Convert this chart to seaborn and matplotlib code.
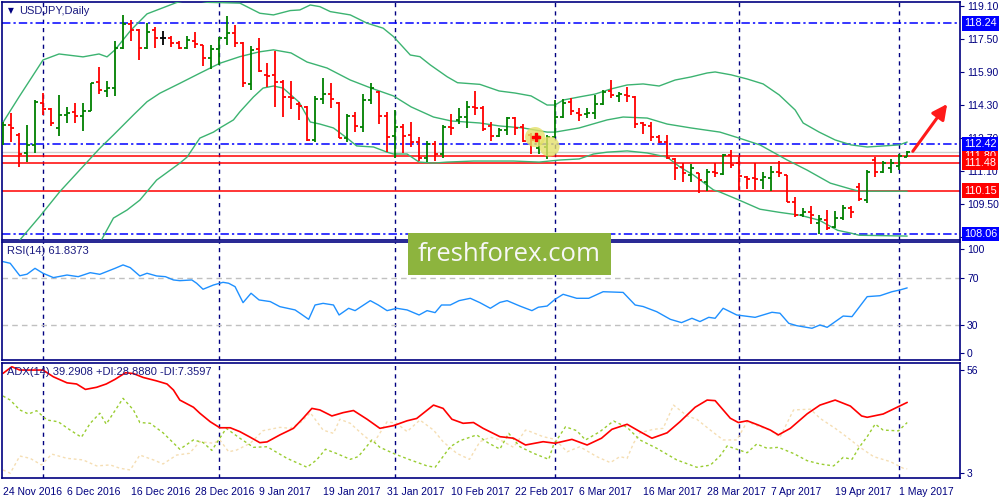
import matplotlib
matplotlib.use("Agg")
import matplotlib.pyplot as plt
from matplotlib.patches import Rectangle
import seaborn as sns
import pandas as pd

# USDJPY daily bars, 24 Nov 2016 .. 2 May 2017
opens = [112.44, 113.33, 112.84, 111.95, 112.36, 114.41, 114.10, 113.17, 113.81, 113.97,
         113.76, 114.00, 115.41, 114.99, 115.10, 117.07, 118.20, 117.92, 117.07, 117.92,
         117.52, 117.52, 117.31, 117.07, 117.41, 117.20, 116.55, 116.99, 117.52, 117.76,
         117.28, 115.29, 116.99, 115.73, 115.73, 115.42, 114.70, 114.33, 114.18, 112.58,
         114.60, 114.81, 114.41, 112.71, 113.76, 113.24, 114.54, 114.94, 113.76, 112.79,
         113.24, 112.84, 112.49, 111.71, 112.41, 111.91, 113.21, 113.57, 113.73, 114.21,
         114.13, 113.28, 112.79, 113.08, 113.65, 113.21, 112.84, 112.20, 112.28, 112.76,
         113.70, 114.46, 113.92, 113.84, 113.92, 114.33, 114.99, 114.73, 114.78, 114.70,
         113.41, 113.28, 112.73, 112.52, 111.66, 111.31, 110.91, 110.99, 110.58, 111.07,
         110.95, 111.87, 111.47, 110.83, 110.74, 110.66, 110.78, 111.07, 110.91, 109.61,
         108.97, 109.10, 108.57, 108.73, 108.41, 108.81, 109.33, 110.34, 109.70, 111.63,
         111.03, 111.23, 111.34, 111.79]
highs = [113.49, 113.89, 112.92, 113.33, 114.54, 114.86, 114.13, 114.78, 114.18, 114.41,
         114.37, 115.37, 116.15, 115.47, 117.41, 118.65, 118.41, 117.96, 118.25, 118.05,
         117.88, 117.63, 117.39, 117.63, 117.81, 117.20, 117.20, 117.57, 118.62, 118.17,
         117.36, 117.15, 117.55, 116.34, 116.88, 115.50, 115.47, 114.46, 114.25, 114.73,
         115.60, 115.34, 114.42, 113.86, 113.97, 114.83, 115.36, 114.97, 113.95, 114.05,
         113.36, 113.49, 112.76, 112.57, 112.55, 113.33, 113.86, 114.16, 114.50, 114.97,
         114.25, 113.46, 113.20, 113.73, 113.70, 113.37, 112.95, 112.84, 112.84, 114.54,
         114.57, 114.62, 114.16, 114.13, 114.78, 115.02, 115.50, 114.91, 115.15, 114.73,
         113.49, 113.46, 112.84, 112.83, 111.71, 111.47, 111.42, 111.02, 111.18, 111.47,
         111.92, 112.12, 111.76, 110.86, 111.47, 111.07, 111.34, 111.58, 110.91, 109.83,
         109.29, 109.40, 108.97, 109.21, 109.16, 109.45, 109.40, 110.50, 111.15, 111.79,
         111.60, 111.68, 111.92, 112.08]
lows = [112.36, 112.52, 111.31, 111.55, 111.95, 113.81, 113.28, 112.79, 113.41, 113.41,
        113.04, 114.00, 114.81, 114.70, 114.73, 116.99, 117.41, 116.47, 116.99, 117.07,
        117.20, 117.09, 116.99, 117.00, 117.07, 116.20, 116.02, 116.23, 117.17, 117.12,
        115.18, 115.02, 115.91, 115.15, 114.21, 113.73, 114.10, 113.57, 112.57, 112.52,
        114.34, 114.16, 112.68, 112.52, 113.00, 113.00, 114.34, 113.37, 112.04, 111.71,
        111.95, 112.28, 111.60, 111.52, 111.60, 111.71, 112.84, 113.37, 113.20, 113.81,
        113.05, 112.57, 112.76, 112.84, 112.84, 112.52, 111.91, 111.92, 111.66, 112.73,
        113.65, 113.81, 113.54, 113.65, 113.60, 114.29, 114.62, 114.46, 114.46, 113.17,
        112.87, 112.55, 112.47, 111.66, 110.66, 110.58, 110.58, 110.05, 110.13, 110.83,
        110.91, 111.23, 110.18, 110.21, 110.18, 110.21, 110.13, 110.79, 109.58, 108.89,
        108.89, 108.53, 108.03, 108.24, 108.33, 108.73, 108.84, 109.65, 109.57, 110.83,
        110.99, 111.02, 111.15, 111.79]
closes = [113.33, 113.17, 111.91, 112.36, 114.46, 114.10, 113.44, 113.81, 113.89, 113.76,
          114.00, 115.37, 115.02, 115.10, 117.07, 118.20, 117.92, 117.07, 117.84, 117.52,
          117.52, 117.31, 117.07, 117.44, 117.23, 116.55, 116.99, 117.52, 117.76, 117.28,
          115.34, 116.96, 115.96, 115.70, 115.39, 114.70, 114.65, 114.25, 112.58, 114.60,
          114.81, 114.57, 112.71, 113.76, 113.28, 114.54, 115.13, 113.76, 112.76, 113.21,
          112.79, 112.52, 111.71, 112.41, 111.91, 113.24, 113.18, 113.70, 114.21, 114.13,
          113.12, 112.79, 113.08, 113.65, 113.17, 112.55, 112.60, 112.41, 112.73, 113.70,
          114.37, 114.02, 113.81, 113.89, 114.33, 114.94, 114.78, 114.81, 114.73, 113.37,
          113.33, 112.73, 112.52, 111.71, 111.23, 110.99, 111.23, 110.66, 111.07, 110.99,
          111.87, 111.39, 110.86, 110.70, 110.70, 110.83, 111.07, 110.99, 109.58, 108.97,
          109.10, 108.97, 108.76, 108.33, 108.81, 109.29, 109.10, 109.73, 111.07, 111.07,
          111.47, 111.47, 111.83, 112.04]

# Bollinger bands (bar position, price)
bb_up_x = [0, 2, 5, 7, 10, 12, 13, 14, 15, 16, 18, 21.7, 23.5, 25.5, 29.6, 32.1, 33.8, 35.9,
           37.1, 38.4, 39.6, 40.9, 43.4, 45.5, 47.5, 48.8, 50.9, 52.1, 53.4, 55.5, 56.8, 59.6,
           62, 64, 66, 68, 69, 70, 72, 74, 76, 78, 80, 82, 84, 86, 88, 89, 91, 93, 95, 97, 99,
           100, 102, 104, 106, 108, 110, 112, 113]
bb_up = [113.45, 114.68, 116.47, 116.76, 116.62, 116.76, 116.62, 116.96, 117.44, 117.92,
         118.70, 119.25, 119.40, 119.26, 119.22, 118.73, 118.65, 118.86, 118.89, 119.13,
         119.05, 118.81, 118.65, 118.25, 118.01, 117.60, 116.71, 116.63, 116.23, 115.66,
         115.37, 115.29, 114.97, 114.87, 114.73, 114.29, 114.29, 114.53, 114.68, 114.82,
         115.07, 115.26, 115.31, 115.21, 115.50, 115.65, 115.84, 115.89, 115.75, 115.55,
         115.31, 114.78, 114.05, 113.42, 112.98, 112.60, 112.36, 112.26, 112.31, 112.36,
         112.50]
bb_mid_x = [2.1, 4.6, 7.1, 9.6, 12.1, 13.8, 16.3, 18, 19.6, 22.1, 24.6, 27.1, 29.6, 32, 33.8,
            36, 38, 40.5, 43.4, 46, 48.8, 51, 53.8, 56, 59.6, 62, 65, 68, 69, 72, 75.5, 77.5,
            80.5, 83, 86, 89.6, 92, 94.6, 98, 100.5, 103.4, 106, 107, 113]
bb_mid = [107.76, 108.90, 110.10, 111.15, 112.20, 112.84, 113.81, 114.45, 114.86, 115.34,
          115.83, 116.31, 116.63, 116.86, 116.96, 116.81, 116.37, 116.08, 115.50, 115.11,
          114.73, 114.20, 113.71, 113.52, 113.42, 113.28, 113.18, 112.98, 112.98, 113.18,
          113.57, 113.71, 113.66, 113.37, 113.18, 112.98, 112.69, 112.36, 111.63, 111.14,
          110.51, 110.22, 110.12, 110.12]
bb_low_x = [12.3, 13.8, 15.5, 17.1, 19.2, 22.1, 23, 24.6, 26.3, 27.1, 28.8, 29.6, 31.3, 32.5,
            33.8, 35, 37, 38.4, 39.6, 41.3, 43, 44.2, 46.3, 48, 48.8, 50.5, 52, 53.8, 55.5,
            58.8, 63.8, 67, 69.6, 72, 73.8, 75.5, 78, 80.5, 83, 84.6, 86.3, 88.8, 89.6, 92,
            94.6, 97, 99.6, 102, 104.3, 106, 107, 113]
bb_low = [107.76, 108.82, 109.21, 109.69, 110.66, 111.48, 111.77, 112.69, 112.98, 113.18,
          113.57, 113.96, 114.68, 115.11, 115.21, 115.11, 114.43, 113.47, 113.37, 113.18,
          112.69, 112.31, 112.26, 112.01, 111.92, 111.92, 111.53, 111.48, 111.53, 111.58,
          111.58, 111.53, 111.63, 111.68, 111.92, 112.01, 112.07, 111.97, 111.77, 111.29,
          110.90, 110.18, 110.08, 109.69, 109.25, 109.10, 108.96, 108.72, 108.23, 108.09,
          107.99, 107.95]

# RSI(14)
rsi_x = [0, 0.9, 2.1, 3, 4, 5, 6.3, 8, 9.4, 10.9, 12.1, 14, 15, 15.9, 17.1, 18, 19.2, 20.3,
         21.3, 22.1, 23.6, 24.2, 25, 26.3, 27.5, 28.2, 29, 30, 31, 32, 33.4, 34.6, 36.5, 37.3,
         38.2, 39, 40, 41.3, 42, 43.2, 44, 45.9, 46.9, 48, 49.2, 50.5, 52, 53, 54, 54.8, 55.9,
         57, 58.4, 59.6, 60.9, 62.1, 63, 64.6, 66.1, 66.9, 68, 69, 70, 71.7, 73.2, 75, 76.3,
         77.5, 79, 80, 81.7, 83.4, 84.8, 86.1, 87.1, 88.2, 89, 90, 91.7, 94, 96.1, 97.1, 98.2,
         99.2, 101.1, 102.1, 103, 105, 106.1, 108, 109.6, 111.1, 112.1, 113]
rsi = [84.2, 82.8, 72.2, 73.5, 78.5, 74.3, 70.6, 72.8, 71.4, 74.8, 73.4, 78.5, 81.4, 79.1,
       72.0, 74.3, 72.0, 71.4, 68.6, 68.0, 68.6, 65.8, 60.7, 64.3, 66.6, 65.8, 62.9, 49.3,
       57.3, 51.6, 50.2, 45.9, 43.1, 39.4, 35.1, 47.3, 48.7, 47.3, 38.8, 44.5, 42.5, 51.0,
       47.3, 42.5, 44.5, 43.1, 38.8, 42.5, 40.8, 47.3, 47.3, 51.0, 53.0, 49.3, 44.5, 49.5,
       51.0, 46.4, 42.5, 45.4, 46.4, 52.2, 56.4, 53.0, 53.0, 58.6, 58.3, 58.0, 47.3, 46.0,
       41.6, 35.1, 32.3, 36.0, 33.2, 36.8, 36.0, 44.5, 38.8, 36.8, 41.1, 40.3, 31.7, 29.7,
       27.5, 30.3, 28.3, 37.9, 37.4, 54.4, 55.2, 58.6, 60.1, 61.84]

# ADX(14), +DI, -DI
adx_x = [0, 1.1, 2.1, 3.8, 5, 6.3, 8, 9.2, 10.3, 11.7, 12.9, 14, 15.3, 16.3, 17.5, 19.2, 20.5,
         21.3, 22.1, 23.8, 24.6, 25.9, 27.1, 28.4, 29.6, 30.9, 32.1, 33, 34.6, 36.3, 37.5, 38.6,
         39.6, 41.1, 42.5, 43.8, 45.5, 47.1, 48.8, 50.5, 51.7, 53.8, 55, 56.1, 57.5, 58.8, 60,
         62.1, 63.8, 65.3, 67.5, 69, 71.1, 73, 74.8, 76.1, 78, 79.6, 81.1, 83, 84.6, 86.5, 88,
         89, 90.9, 91.9, 93, 94.4, 95.9, 96.9, 98.4, 100.5, 102.1, 104, 105.9, 107.3, 108, 110,
         111.9, 113]
adx = [54.3, 57.7, 56.0, 56.0, 56.0, 52.5, 49.4, 48.8, 46.0, 47.1, 48.8, 51.2, 54.6, 54.2,
       52.2, 50.4, 48.8, 45.7, 40.5, 36.8, 33.7, 29.3, 26.2, 26.2, 24.2, 21.3, 18.5, 18.9,
       22.5, 25.9, 31.1, 36.2, 35.4, 32.3, 34.0, 35.1, 30.6, 25.9, 27.3, 29.8, 31.0, 37.9,
       36.2, 30.6, 28.5, 28.9, 25.9, 21.6, 20.8, 17.3, 19.0, 18.2, 20.2, 17.3, 20.8, 25.4,
       28.0, 24.2, 20.8, 23.6, 29.3, 36.8, 40.5, 40.2, 31.1, 28.9, 29.8, 27.6, 25.0, 22.5,
       25.9, 33.4, 37.9, 40.5, 37.4, 32.3, 31.6, 33.3, 37.1, 39.29]
pdi_x = [0, 0.9, 2.1, 3.2, 4.2, 5.5, 6.9, 8.4, 9.8, 10.9, 12.1, 12.9, 15, 16.3, 17.1, 18.4, 20,
         22.1, 23.8, 25, 26.1, 27.9, 29.6, 31.3, 33, 35.5, 38, 39.2, 40.3, 41.7, 43.4, 44.4,
         45.5, 46.1, 47.1, 49, 50.9, 53, 54, 55.9, 57.1, 59.2, 60.7, 62.1, 63.2, 64.6, 66.3,
         68.2, 68.8, 70.3, 71.7, 72.8, 74.6, 76.3, 78, 79.6, 81.7, 84.2, 86.7, 88.4, 89.6, 90.5,
         91.7, 93, 94.2, 95.5, 96.9, 98.8, 100.5, 102.1, 103.8, 105, 106.1, 107, 108, 109, 110,
         111.9, 113]
pdi = [42.6, 40.5, 35.4, 33.3, 35.0, 30.2, 29.3, 25.0, 21.3, 28.5, 33.7, 28.1, 41.4, 35.4,
       28.9, 28.5, 23.6, 15.1, 19.9, 18.6, 14.5, 25.9, 20.8, 16.1, 16.4, 10.4, 5.8, 9.6, 15.1,
       12.9, 9.9, 11.3, 16.8, 19.9, 16.1, 12.6, 9.6, 6.5, 5.8, 16.4, 19.5, 22.5, 18.2, 15.2,
       23.3, 16.4, 13.0, 9.9, 17.3, 26.7, 24.7, 19.9, 24.2, 29.7, 26.4, 19.9, 15.6, 9.6, 5.8,
       6.9, 11.6, 16.8, 15.1, 13.3, 17.8, 15.6, 16.1, 12.9, 9.2, 7.5, 6.5, 10.9, 9.9, 16.1,
       21.6, 28.1, 25.0, 24.6, 28.89]
mdi_x = [0, 0.9, 2.1, 3.4, 4.8, 6.1, 8, 10, 11.7, 13.4, 14.6, 15.9, 17.1, 18.8, 20, 21.7, 23.3,
         24.6, 26.3, 27.1, 28.2, 29.2, 30.9, 32.5, 34.6, 35.9, 37.3, 38.4, 40, 41.3, 42.1, 43.4,
         45, 46.3, 48, 49.2, 50.5, 52.1, 53.8, 55, 56.7, 58.3, 59.6, 60.9, 62.1, 63.8, 65.3,
         65.9, 67.5, 69, 70.5, 72.1, 74.2, 75.9, 77.1, 78, 78.8, 79.6, 81.3, 82.5, 83.8, 85.5,
         86.7, 88.4, 90, 91.7, 93, 94.6, 95.9, 97.1, 98.8, 100.9, 102.1, 104, 105.5, 107.1,
         108.8, 110.9, 112.5, 113]
mdi = [4.4, 2.7, 11.6, 10.4, 7.0, 12.6, 10.4, 9.6, 6.5, 7.0, 5.3, 4.4, 12.1, 9.6, 7.5, 12.1,
       13.0, 19.0, 18.2, 19.9, 13.8, 14.7, 18.2, 24.7, 26.4, 25.9, 29.3, 34.0, 25.0, 23.3, 30.6,
       28.5, 22.5, 18.2, 29.3, 28.5, 24.2, 30.2, 25.0, 19.0, 13.0, 9.9, 19.0, 21.3, 20.0, 16.1,
       25.0, 24.2, 21.6, 20.2, 13.8, 16.4, 11.3, 8.2, 11.3, 10.4, 18.2, 23.6, 25.4, 25.9, 37.9,
       32.3, 30.6, 25.0, 19.9, 19.9, 29.3, 26.7, 25.0, 21.3, 35.4, 35.8, 31.1, 25.9, 21.3,
       16.1, 11.3, 8.7, 5.3, 5.0]

date_pos = [0, 8, 16, 24, 32, 40, 48, 56, 64, 72, 80, 88, 96, 104, 112]
date_labels = ["24 Nov 2016", "6 Dec 2016", "16 Dec 2016", "28 Dec 2016", "9 Jan 2017",
               "19 Jan 2017", "31 Jan 2017", "10 Feb 2017", "22 Feb 2017", "6 Mar 2017",
               "16 Mar 2017", "28 Mar 2017", "7 Apr 2017", "19 Apr 2017", "1 May 2017"]
month_starts = [5, 27, 49, 69, 92, 112]
price_ticks = [119.10, 117.50, 115.90, 114.30, 112.70, 111.10, 109.50, 107.90]
blue_levels = [118.24, 112.42, 108.06]
red_levels = [111.80, 111.48, 110.15]

sns.set_style("white")
plt.rcParams["font.family"] = ["Liberation Sans", "DejaVu Sans"]

NAVY = "#000080"
TXT = "#1a1a80"
BAND = "#3cb371"

fig = plt.figure(figsize=(10, 5), dpi=100)
ax = fig.add_axes([0.002, 0.52, 0.958, 0.4754])
ax_rsi = fig.add_axes([0.002, 0.28, 0.958, 0.236])
ax_adx = fig.add_axes([0.002, 0.0434, 0.958, 0.2316])

for a in (ax, ax_rsi, ax_adx):
    a.set_xlim(-0.125, 119.6)
    for s in a.spines.values():
        s.set_color(NAVY)
        s.set_linewidth(1.2)
    for m in month_starts:
        a.axvline(m, color=NAVY, lw=1, ls=(0, (3, 3)), zorder=1)
    a.yaxis.tick_right()
    a.tick_params(axis="y", colors=NAVY, labelsize=7.5, length=3, direction="out", pad=2)

# ---- price panel ----
bars = pd.DataFrame({"i": range(len(closes)), "o": opens, "h": highs, "l": lows, "c": closes})
bars["col"] = ["#008000" if c > o else ("#ff0000" if c < o else "black")
               for o, c in zip(bars.o, bars.c)]

for y in blue_levels:
    ax.axhline(y, color="#0000ff", lw=1.1, ls=(0, (5.5, 2, 1.5, 2)), zorder=2)
for y in red_levels:
    ax.axhline(y, color="#ff0000", lw=1.1, zorder=2)
ax.axhline(closes[-1], color="#cfcfcf", lw=1, zorder=2)

for bx, by in [(bb_up_x, bb_up), (bb_mid_x, bb_mid), (bb_low_x, bb_low)]:
    sns.lineplot(x=bx, y=by, ax=ax, color=BAND, lw=1, estimator=None, sort=False, zorder=3)

ax.vlines(bars.i, bars.l, bars.h, colors=bars.col, lw=1.3, zorder=4)
ax.hlines(bars.o, bars.i - 0.38, bars.i, colors=bars.col, lw=1.3, zorder=4)
ax.hlines(bars.c, bars.i, bars.i + 0.38, colors=bars.col, lw=1.3, zorder=4)

ax.scatter([66.5, 68.3], [112.74, 112.28], s=210, color="#e4e06a", alpha=0.8,
           edgecolors="none", zorder=6)
ax.scatter([66.6], [112.74], marker="P", s=28, color="#ff0000", zorder=7)

ax.annotate("", xy=(118.0, 114.34), xytext=(113.7, 112.05),
            arrowprops=dict(arrowstyle="-|>,head_length=0.9,head_width=0.45",
                            color="#ff1a1a", lw=2.2, shrinkA=0, shrinkB=0),
            annotation_clip=False, zorder=8)

ax.set_ylim(107.76, 119.26)
ax.set_yticks(price_ticks)
ax.set_yticklabels([f"{v:.2f}" for v in price_ticks])
ax.set_xticks([])
ax.set_xlabel("")
ax.set_ylabel("")

boxes = [(111.80, "#ff0000"), (118.24, "#0000ff"), (112.42, "#0000ff"),
         (111.48, "#ff0000"), (110.15, "#ff0000"), (108.06, "#0000ff")]
for k, (y, col) in enumerate(boxes):
    ax.text(1.004, y, f"{y:.2f}", transform=ax.get_yaxis_transform(), color="white",
            fontsize=7.8, va="center", ha="left", clip_on=False, zorder=20 + k,
            bbox=dict(boxstyle="square,pad=0.2", fc=col, ec="none"))

# ---- RSI panel ----
ax_rsi.axhline(70, color="#c0c0c0", lw=1, ls=(0, (4, 3)))
ax_rsi.axhline(30, color="#c0c0c0", lw=1, ls=(0, (4, 3)))
sns.lineplot(x=rsi_x, y=rsi, ax=ax_rsi, color="#1e90ff", lw=1, estimator=None, sort=False)
ax_rsi.set_ylim(0.5, 100.9)
ax_rsi.set_yticks([94.7, 70, 30, 6.2])
ax_rsi.set_yticklabels(["100", "70", "30", "0"])
ax_rsi.set_xticks([])
ax_rsi.set_xlabel("")
ax_rsi.set_ylabel("")

# ---- ADX panel ----
sns.lineplot(x=mdi_x, y=mdi, ax=ax_adx, color="#f5deb3", lw=1, ls=(0, (2, 2)),
             estimator=None, sort=False)
sns.lineplot(x=pdi_x, y=pdi, ax=ax_adx, color="#9acd32", lw=1, ls=(0, (2, 2)),
             estimator=None, sort=False)
sns.lineplot(x=adx_x, y=adx, ax=ax_adx, color="#ff0000", lw=1.2, estimator=None, sort=False)
ax_adx.set_ylim(0.1, 59.9)
ax_adx.set_yticks([56, 3])
ax_adx.set_yticklabels(["56", "3"])
ax_adx.set_xticks(date_pos)
ax_adx.set_xticklabels(date_labels, ha="left")
ax_adx.tick_params(axis="x", colors=NAVY, labelsize=7.5, length=4, direction="out", pad=2)
ax_adx.set_xlabel("")
ax_adx.set_ylabel("")

# ---- captions ----
fig.text(0.008, 0.978, "\u25bc", fontsize=5.5, color=NAVY, va="center",
         family="DejaVu Sans")
fig.text(0.019, 0.978, "USDJPY,Daily", fontsize=8, color=TXT, va="center")
fig.text(0.007, 0.497, "RSI(14) 61.8373", fontsize=8, color=TXT, va="center")
fig.text(0.007, 0.256, "ADX(14) 39.2908 +DI:28.8880 -DI:7.3597", fontsize=8,
         color=TXT, va="center")

# watermark
fig.add_artist(Rectangle((0.408, 0.45), 0.203, 0.084, transform=fig.transFigure,
                         fc="#8db43e", ec="none", zorder=30))
fig.text(0.5095, 0.4915, "freshforex.com", color="#f7f7f7", fontsize=18.5,
         family="Open Sans", ha="center", va="center", zorder=31)

fig.savefig("out.png", dpi=100, facecolor="white")
